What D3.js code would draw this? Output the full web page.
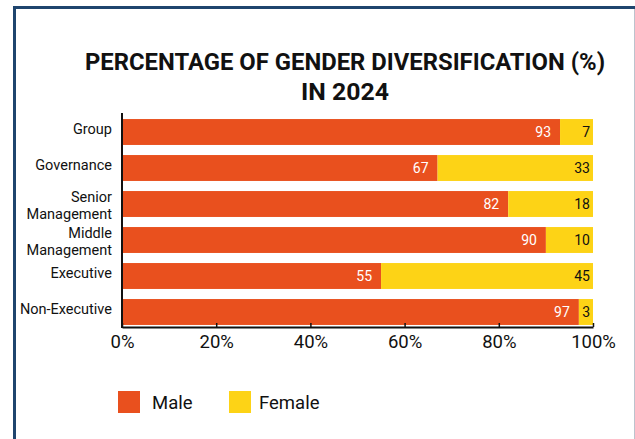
<!DOCTYPE html>
<html>
<head>
<meta charset="utf-8">
<script src="https://cdn.jsdelivr.net/npm/d3@7"></script>
<style>
  html, body { margin: 0; padding: 0; background: #fff; }
  svg { display: block; font-family: Roboto, "Noto Sans", sans-serif; }
</style>
</head>
<body>
<div id="chart"></div>
<script>
// data
var categories = ["Group", "Governance", "Senior\nManagement", "Middle\nManagement", "Executive", "Non-Executive"];
var male = [93, 67, 82, 90, 55, 97];
var female = [7, 33, 18, 10, 45, 3];
var tickValues = [0, 20, 40, 60, 80, 100];
var seriesNames = ["Male", "Female"];
var seriesColors = ["#e9501e", "#fdd316"];

var width = 635, height = 439;

var svg = d3.select("#chart").append("svg")
	.attr("width", width)
	.attr("height", height);

// frame
svg.append("line")
	.attr("x1", 14.5).attr("y1", 6).attr("x2", 14.5).attr("y2", height)
	.attr("stroke", "#1f456e").attr("stroke-width", 3);
svg.append("line")
	.attr("x1", 13).attr("y1", 7.5).attr("x2", 635).attr("y2", 7.5)
	.attr("stroke", "#1f456e").attr("stroke-width", 3);
svg.append("line")
	.attr("x1", 634.5).attr("y1", 9).attr("x2", 634.5).attr("y2", height)
	.attr("stroke", "#bcc3cd").attr("stroke-width", 1);

// title
var title = svg.append("text")
	.attr("text-anchor", "middle")
	.attr("font-weight", "bold")
	.attr("font-size", 23)
	.attr("fill", "#111");
title.append("tspan").attr("x", 345).attr("y", 70)
	.attr("textLength", 520).attr("lengthAdjust", "spacingAndGlyphs")
	.text("PERCENTAGE OF GENDER DIVERSIFICATION (%)");
title.append("tspan").attr("x", 345).attr("y", 100)
	.attr("textLength", 88).attr("lengthAdjust", "spacingAndGlyphs")
	.text("IN 2024");

var x = d3.scaleLinear().domain([0, 100]).range([122, 593]);
var y = d3.scaleBand().domain(categories).range([114, 330])
	.paddingInner(0.28).paddingOuter(0.14);

var rows = categories.map(function(c, i) {
	return {cat: c, male: male[i], female: female[i]};
});

// bars
var g = svg.append("g");
g.selectAll(".male").data(rows).enter().append("rect")
	.attr("class", "male")
	.attr("x", x(0))
	.attr("y", function(d) { return y(d.cat); })
	.attr("width", function(d) { return x(d.male) - x(0); })
	.attr("height", y.bandwidth())
	.attr("fill", seriesColors[0]);
g.selectAll(".female").data(rows).enter().append("rect")
	.attr("class", "female")
	.attr("x", function(d) { return x(d.male); })
	.attr("y", function(d) { return y(d.cat); })
	.attr("width", function(d) { return x(d.male + d.female) - x(d.male); })
	.attr("height", y.bandwidth())
	.attr("fill", seriesColors[1]);

// value labels
g.selectAll(".mlab").data(rows).enter().append("text")
	.attr("x", function(d) { return x(d.male) - 9; })
	.attr("y", function(d) { return y(d.cat) + y.bandwidth() / 2; })
	.attr("dy", "0.36em")
	.attr("text-anchor", "end")
	.attr("font-size", 14)
	.attr("fill", "#fff")
	.text(function(d) { return d.male; });
g.selectAll(".flab").data(rows).enter().append("text")
	.attr("x", function(d) { return x(d.male + d.female) - 3; })
	.attr("y", function(d) { return y(d.cat) + y.bandwidth() / 2; })
	.attr("dy", "0.36em")
	.attr("text-anchor", "end")
	.attr("font-size", 14)
	.attr("fill", "#111")
	.text(function(d) { return d.female; });

// category labels
var labels = svg.append("g").selectAll("text").data(categories).enter().append("text")
	.attr("text-anchor", "end")
	.attr("font-size", 14.5)
	.attr("fill", "#111");
labels.each(function(c) {
	var lines = c.split("\n");
	var cy = y(c) + y.bandwidth() / 2;
	var t = d3.select(this);
	lines.forEach(function(l, i) {
		var off = lines.length === 1 ? -3 : (i === 0 ? -7 : 10);
		t.append("tspan").attr("x", 112).attr("y", cy + off).attr("dy", "0.35em").text(l);
	});
});

// axes
var xAxis = svg.append("g")
	.attr("transform", "translate(0,327)")
	.call(d3.axisBottom(x).tickValues(tickValues).tickSizeInner(-4).tickSizeOuter(0)
		.tickFormat(function(d) { return d + "%"; }));
xAxis.select(".domain").attr("stroke", "#111").attr("stroke-width", 2);
xAxis.selectAll(".tick line").attr("stroke", "#111").attr("stroke-width", 1.5);
xAxis.selectAll(".tick text")
	.attr("y", 8).attr("dy", "0.71em")
	.attr("font-size", 18.5)
	.attr("font-family", "Roboto, sans-serif")
	.attr("fill", "#111");

svg.append("line")
	.attr("x1", x(0)).attr("x2", x(0)).attr("y1", 113).attr("y2", 328)
	.attr("stroke", "#111").attr("stroke-width", 2);

// legend
var legendBoxX = [118, 229];
var legendTextX = [152, 259];
var legend = svg.append("g").selectAll("g").data(seriesNames).enter().append("g");
legend.append("rect")
	.attr("x", function(d, i) { return legendBoxX[i]; })
	.attr("y", 391)
	.attr("width", 22).attr("height", 22)
	.attr("fill", function(d, i) { return seriesColors[i]; });
legend.append("text")
	.attr("x", function(d, i) { return legendTextX[i]; })
	.attr("y", 402).attr("dy", "0.36em")
	.attr("font-size", 18.5)
	.attr("fill", "#111")
	.text(function(d) { return d; });
</script>
</body>
</html>
